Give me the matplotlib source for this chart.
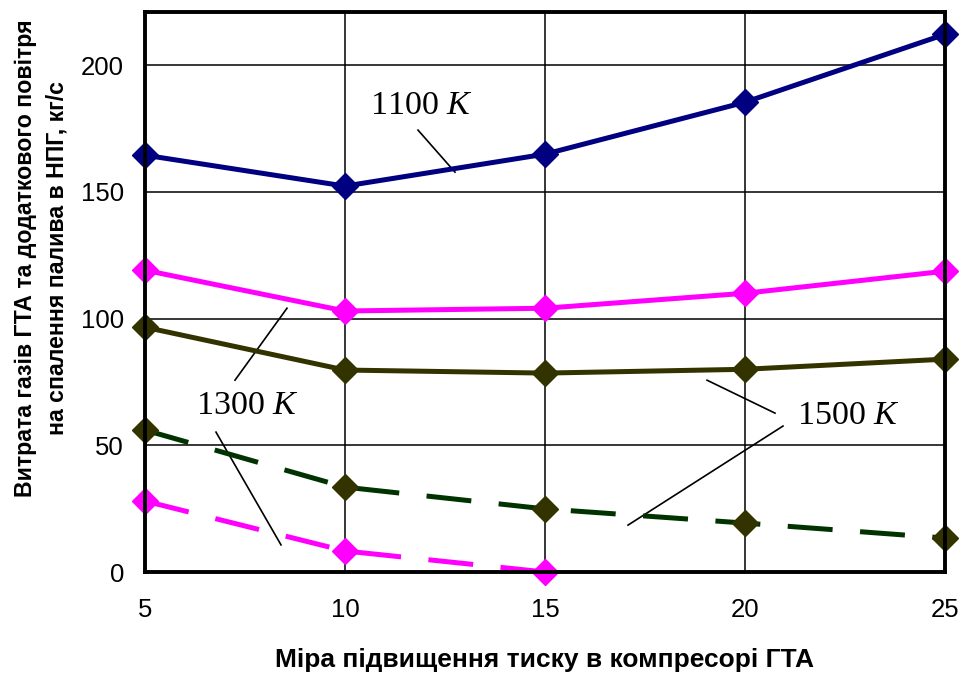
import numpy as np
import matplotlib
matplotlib.use("Agg")
import matplotlib.pyplot as plt

plt.rcParams['font.family'] = ['Liberation Sans', 'DejaVu Sans']
plt.rcParams['mathtext.fontset'] = 'custom'
plt.rcParams['mathtext.rm'] = 'Liberation Serif'
plt.rcParams['mathtext.it'] = 'Liberation Serif:italic'

# Data
pressure_ratio = [5, 10, 15, 20, 25]
flow_1100 = [164.5, 152.3, 164.9, 185.4, 212.2]
flow_1300 = [119.1, 103.0, 104.1, 110.0, 118.7]
flow_1500 = [96.6, 79.7, 78.5, 80.0, 84.0]
extra_1500 = [56.0, 33.5, 24.9, 19.3, 13.4]
pressure_ratio_short = [5, 10, 15]
extra_1300 = [28.0, 8.3, 0.0]

x_ticks = [5, 10, 15, 20, 25]
y_ticks = [0, 50, 100, 150, 200]

W, H = 962, 673
fig = plt.figure(figsize=(W / 100, H / 100), dpi=100)
ax = fig.add_axes([145 / W, 1 - 572 / H, 800 / W, 560 / H])

lw = 3.6
ms = 13
# solid lines
ax.plot(pressure_ratio, flow_1100, color='#000080', lw=lw, marker='D',
        ms=ms, mfc='#000080', mec='#000080', zorder=5, clip_on=False)
ax.plot(pressure_ratio, flow_1300, color='#FF00FF', lw=lw, marker='D',
        ms=ms, mfc='#FF00FF', mec='#FF00FF', zorder=5, clip_on=False)
ax.plot(pressure_ratio, flow_1500, color='#333300', lw=lw, marker='D',
        ms=ms, mfc='#333300', mec='#333300', zorder=5, clip_on=False)
# dashed lines
ax.plot(pressure_ratio, extra_1500, color='#003300', lw=lw, ls=(0, (9, 5.5)),
        marker='D', ms=ms, mfc='#333300', mec='#333300', zorder=5, clip_on=False)
ax.plot(pressure_ratio_short, extra_1300, color='#FF00FF', lw=lw, ls=(0, (9, 5.5)),
        marker='D', ms=ms, mfc='#FF00FF', mec='#FF00FF', zorder=5, clip_on=False)

ax.set_xlim(5, 25)
ax.set_ylim(0, 221)
ax.set_xticks(x_ticks)
ax.set_yticks(y_ticks)
ax.grid(True, color='black', lw=1.1)
ax.set_axisbelow(True)
for s in ax.spines.values():
    s.set_linewidth(2.8)
    s.set_zorder(6)
ax.tick_params(length=0, labelsize=18.5)
ax.tick_params(axis='x', pad=19)
ax.tick_params(axis='y', pad=15)

# labels with leader lines
ax.text(11.9, 184.2, r'$\mathrm{1100}\ K$', fontsize=24.5, ha='center', va='center')
ax.text(7.55, 65.9, r'$\mathrm{1300}\ K$', fontsize=24.5, ha='center', va='center')
ax.text(22.575, 61.9, r'$\mathrm{1500}\ K$', fontsize=24.5, ha='center', va='center')
leaders = [
    ((11.825, 174.4), (12.75, 157.8)),
    ((8.55, 104.1), (7.25, 75.7)),
    ((6.775, 55.2), (8.4, 10.7)),
    ((19.05, 75.7), (20.75, 62.7)),
    ((20.95, 57.6), (17.075, 18.5)),
]
for (x0, y0), (x1, y1) in leaders:
    ax.plot([x0, x1], [y0, y1], color='black', lw=1.2, zorder=4)

fig.text(41 / W, 1 - 258 / H,
         'Витрата газів ГТА та додаткового повітря\nна спалення палива в НПГ, кг/с',
         rotation=90, ha='center', va='center', fontsize=16.7, fontweight='bold',
         multialignment='center', linespacing=1.45)
fig.text(545 / W, 1 - 660 / H, 'Міра підвищення тиску в компресорі ГТА',
         ha='center', va='center', fontsize=19, fontweight='bold')

fig.savefig('out.png', dpi=100)
